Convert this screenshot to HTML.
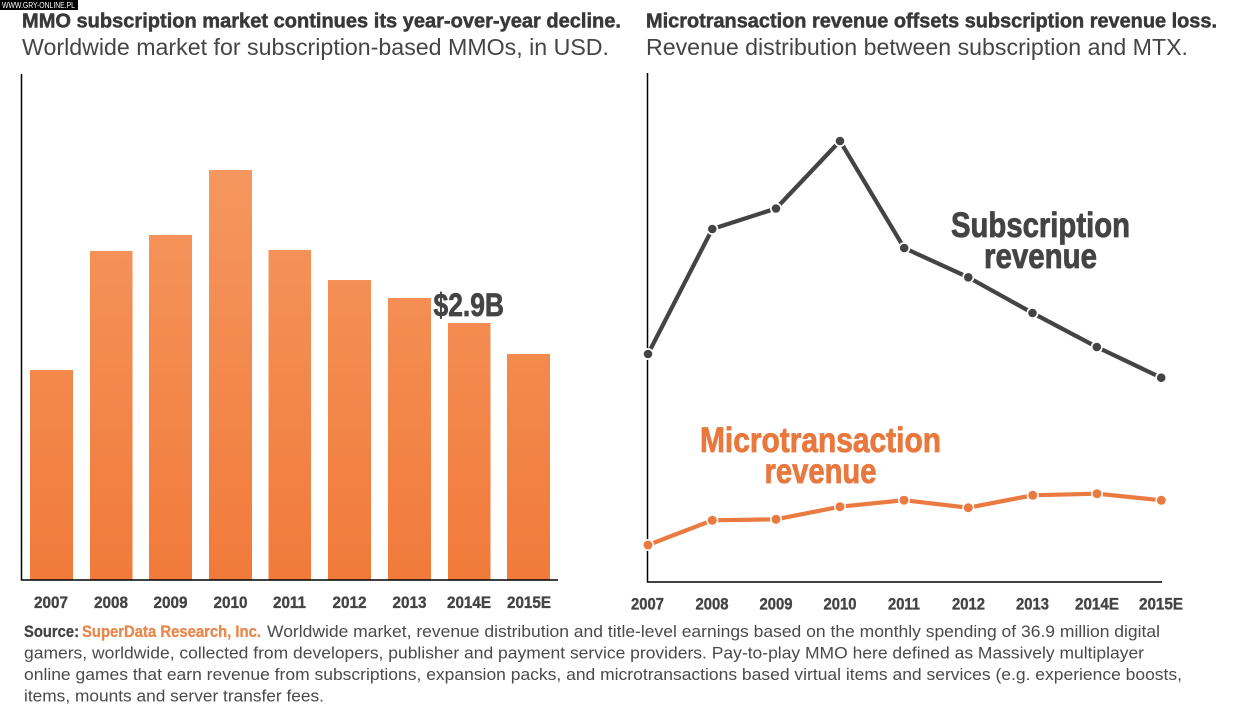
<!DOCTYPE html>
<html>
<head>
<meta charset="utf-8">
<style>
html,body{margin:0;padding:0;background:#fff;}
body{width:1233px;height:710px;overflow:hidden;}
svg{display:block;}
.t{font-family:"Liberation Sans",sans-serif;}
</style>
</head>
<body>
<svg width="1233" height="710" viewBox="0 0 1233 710" xmlns="http://www.w3.org/2000/svg">
<defs>
<linearGradient id="bg" gradientUnits="userSpaceOnUse" x1="0" y1="170" x2="0" y2="580">
<stop offset="0" stop-color="#f5975f"/>
<stop offset="1" stop-color="#f17a3a"/>
</linearGradient>
</defs>
<rect width="1233" height="710" fill="#fff"/>

<!-- watermark -->
<rect x="0" y="0" width="78" height="10" fill="#000"/>
<text class="t" x="2" y="8" font-size="8" fill="#fff" textLength="73" lengthAdjust="spacingAndGlyphs">WWW.GRY-ONLINE.PL</text>

<!-- titles -->
<text class="t" x="22" y="27.5" font-size="20.5" font-weight="bold" fill="#383838" stroke="#383838" stroke-width="0.5" textLength="599" lengthAdjust="spacingAndGlyphs">MMO subscription market continues its year-over-year decline.</text>
<text class="t" x="22" y="55" font-size="23" fill="#454545" textLength="587" lengthAdjust="spacingAndGlyphs">Worldwide market for subscription-based MMOs, in USD.</text>
<text class="t" x="646" y="27.5" font-size="20.5" font-weight="bold" fill="#383838" stroke="#383838" stroke-width="0.5" textLength="571" lengthAdjust="spacingAndGlyphs">Microtransaction revenue offsets subscription revenue loss.</text>
<text class="t" x="646" y="55" font-size="23" fill="#454545" textLength="542" lengthAdjust="spacingAndGlyphs">Revenue distribution between subscription and MTX.</text>

<!-- left chart bars -->
<g fill="url(#bg)">
<rect x="30" y="370" width="43" height="210"/>
<rect x="90" y="251" width="42.5" height="329"/>
<rect x="149" y="235" width="43" height="345"/>
<rect x="209" y="170" width="43" height="410"/>
<rect x="268.5" y="250" width="42.5" height="330"/>
<rect x="328" y="280" width="43" height="300"/>
<rect x="388" y="298" width="43" height="282"/>
<rect x="448" y="323" width="42.5" height="257"/>
<rect x="507" y="354" width="43" height="226"/>
</g>
<!-- left axes -->
<line x1="21.5" y1="74" x2="21.5" y2="580.5" stroke="#000" stroke-width="1.5"/>
<line x1="21" y1="580" x2="558" y2="580" stroke="#000" stroke-width="1.5"/>

<text class="t" x="433.5" y="316" font-size="32" font-weight="bold" fill="#444" stroke="#444" stroke-width="0.7" textLength="70.5" lengthAdjust="spacingAndGlyphs">$2.9B</text>

<!-- left year labels -->
<g class="t" font-size="17" font-weight="bold" fill="#444" stroke="#444" stroke-width="0.35">
<text x="34" y="608" textLength="34" lengthAdjust="spacingAndGlyphs">2007</text>
<text x="94" y="608" textLength="34" lengthAdjust="spacingAndGlyphs">2008</text>
<text x="153.5" y="608" textLength="34" lengthAdjust="spacingAndGlyphs">2009</text>
<text x="213.5" y="608" textLength="34" lengthAdjust="spacingAndGlyphs">2010</text>
<text x="273" y="608" textLength="33" lengthAdjust="spacingAndGlyphs">2011</text>
<text x="332.5" y="608" textLength="34" lengthAdjust="spacingAndGlyphs">2012</text>
<text x="392.5" y="608" textLength="34" lengthAdjust="spacingAndGlyphs">2013</text>
<text x="447" y="608" textLength="44" lengthAdjust="spacingAndGlyphs">2014E</text>
<text x="507" y="608" textLength="44" lengthAdjust="spacingAndGlyphs">2015E</text>
</g>

<!-- right axes -->
<line x1="647.5" y1="73" x2="647.5" y2="582.5" stroke="#000" stroke-width="1.5"/>
<line x1="647" y1="582" x2="1162" y2="582" stroke="#000" stroke-width="1.5"/>

<!-- subscription line -->
<polyline fill="none" stroke="#444" stroke-width="4.2" stroke-linejoin="round"
 points="648,354 712.3,229 776,208.5 840,141 904.2,248 968.3,277.3 1032.5,313 1096.8,347 1161.2,377.7"/>
<g fill="#fff">
<circle cx="648" cy="354" r="6"/><circle cx="712.3" cy="229" r="6"/><circle cx="776" cy="208.5" r="6"/>
<circle cx="840" cy="141" r="6"/><circle cx="904.2" cy="248" r="6"/><circle cx="968.3" cy="277.3" r="6"/>
<circle cx="1032.5" cy="313" r="6"/><circle cx="1096.8" cy="347" r="6"/><circle cx="1161.2" cy="377.7" r="6"/>
</g>
<g fill="#444">
<circle cx="648" cy="354" r="4.3"/><circle cx="712.3" cy="229" r="4.3"/><circle cx="776" cy="208.5" r="4.3"/>
<circle cx="840" cy="141" r="4.3"/><circle cx="904.2" cy="248" r="4.3"/><circle cx="968.3" cy="277.3" r="4.3"/>
<circle cx="1032.5" cy="313" r="4.3"/><circle cx="1096.8" cy="347" r="4.3"/><circle cx="1161.2" cy="377.7" r="4.3"/>
</g>

<!-- microtransaction line -->
<polyline fill="none" stroke="#ea7a40" stroke-width="4.2" stroke-linejoin="round"
 points="648,545 712.3,520.3 776,519.3 840,506.7 904,500.2 968.3,507.7 1032.7,495.3 1097,493.7 1161.3,500.3"/>
<g fill="#fff">
<circle cx="648" cy="545" r="6"/><circle cx="712.3" cy="520.3" r="6"/><circle cx="776" cy="519.3" r="6"/>
<circle cx="840" cy="506.7" r="6"/><circle cx="904" cy="500.2" r="6"/><circle cx="968.3" cy="507.7" r="6"/>
<circle cx="1032.7" cy="495.3" r="6"/><circle cx="1097" cy="493.7" r="6"/><circle cx="1161.3" cy="500.3" r="6"/>
</g>
<g fill="#ea7a40">
<circle cx="648" cy="545" r="4.5"/><circle cx="712.3" cy="520.3" r="4.5"/><circle cx="776" cy="519.3" r="4.5"/>
<circle cx="840" cy="506.7" r="4.5"/><circle cx="904" cy="500.2" r="4.5"/><circle cx="968.3" cy="507.7" r="4.5"/>
<circle cx="1032.7" cy="495.3" r="4.5"/><circle cx="1097" cy="493.7" r="4.5"/><circle cx="1161.3" cy="500.3" r="4.5"/>
</g>

<!-- series labels -->
<g class="t" font-weight="bold" fill="#444" stroke="#444" stroke-width="0.8" font-size="35">
<text x="951" y="237" textLength="179" lengthAdjust="spacingAndGlyphs">Subscription</text>
<text x="984" y="268" textLength="113" lengthAdjust="spacingAndGlyphs">revenue</text>
</g>
<g class="t" font-weight="bold" fill="#e9783e" stroke="#e9783e" stroke-width="0.8" font-size="35.5">
<text x="700" y="452" textLength="241" lengthAdjust="spacingAndGlyphs">Microtransaction</text>
<text x="764.5" y="483" textLength="112" lengthAdjust="spacingAndGlyphs">revenue</text>
</g>

<!-- right year labels -->
<g class="t" font-size="17" font-weight="bold" fill="#444" stroke="#444" stroke-width="0.35">
<text x="631" y="609.5" textLength="33" lengthAdjust="spacingAndGlyphs">2007</text>
<text x="695.5" y="609.5" textLength="33" lengthAdjust="spacingAndGlyphs">2008</text>
<text x="759.5" y="609.5" textLength="33" lengthAdjust="spacingAndGlyphs">2009</text>
<text x="823.5" y="609.5" textLength="33" lengthAdjust="spacingAndGlyphs">2010</text>
<text x="888" y="609.5" textLength="32" lengthAdjust="spacingAndGlyphs">2011</text>
<text x="952" y="609.5" textLength="33" lengthAdjust="spacingAndGlyphs">2012</text>
<text x="1016" y="609.5" textLength="33" lengthAdjust="spacingAndGlyphs">2013</text>
<text x="1075" y="609.5" textLength="44" lengthAdjust="spacingAndGlyphs">2014E</text>
<text x="1139" y="609.5" textLength="44" lengthAdjust="spacingAndGlyphs">2015E</text>
</g>

<!-- source text -->
<g class="t" font-size="17">
<text x="24" y="637" font-weight="bold" fill="#444" stroke="#444" stroke-width="0.3" textLength="55" lengthAdjust="spacingAndGlyphs">Source:</text>
<text x="82" y="637" font-weight="bold" fill="#e8884b" stroke="#e8884b" stroke-width="0.3" textLength="179" lengthAdjust="spacingAndGlyphs">SuperData Research, Inc.</text>
<text x="267" y="637" fill="#4a4a4a" textLength="893" lengthAdjust="spacingAndGlyphs">Worldwide market, revenue distribution and title-level earnings based on the monthly spending of 36.9 million digital</text>
<text x="24" y="658.5" fill="#4a4a4a" textLength="1120" lengthAdjust="spacingAndGlyphs">gamers, worldwide, collected from developers, publisher and payment service providers. Pay-to-play MMO here defined as Massively multiplayer</text>
<text x="24" y="680" fill="#4a4a4a" textLength="1158" lengthAdjust="spacingAndGlyphs">online games that earn revenue from subscriptions, expansion packs, and microtransactions based virtual items and services (e.g. experience boosts,</text>
<text x="24" y="701.5" fill="#4a4a4a" textLength="300" lengthAdjust="spacingAndGlyphs">items, mounts and server transfer fees.</text>
</g>
</svg>
</body>
</html>
